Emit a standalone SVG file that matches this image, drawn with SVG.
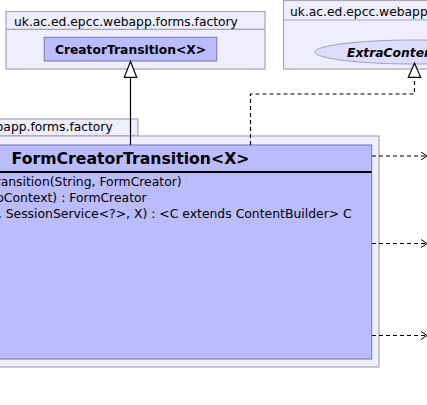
<svg xmlns="http://www.w3.org/2000/svg" width="427" height="405" viewBox="0 0 427 405">
<style>
.pkg{fill:#EEEEFF;stroke:#A4A4B4;stroke-width:1.2}
.cls{fill:#BBBBFF;stroke:#8585BB;stroke-width:1.2}
.lbl{font-family:"DejaVu Sans",sans-serif;font-size:12.3px;fill:#000}
.bold{font-weight:bold}
.mth{font-family:"DejaVu Sans",sans-serif;font-size:12.4px;fill:#000}
.solid{fill:none;stroke:#000;stroke-width:1.2}
.dash{fill:none;stroke:#000;stroke-width:1.2;stroke-dasharray:4,3}
.head{fill:#fff;stroke:#000;stroke-width:1.2}
.open{fill:none;stroke:#000;stroke-width:1}
</style>
<rect width="427" height="405" fill="#fff"/>
<g id="pkg-factory-top">
<rect class="pkg" x="6" y="11.5" width="259" height="57.5"/>
<line x1="6" y1="29.3" x2="265" y2="29.3" stroke="#A4A4B4" stroke-width="1.2"/>
<text class="lbl" x="14" y="25.7">uk.ac.ed.epcc.webapp.forms.factory</text>
</g>
<g id="CreatorTransition">
<rect class="cls" x="44.3" y="37.3" width="172.4" height="23.7"/>
<text class="lbl bold" x="130.5" y="54" text-anchor="middle">CreatorTransition&lt;X&gt;</text>
</g>
<g id="pkg-webapp-right">
<rect class="pkg" x="283.5" y="0.5" width="160" height="68.5"/>
<line x1="283.5" y1="20" x2="443.5" y2="20" stroke="#A4A4B4" stroke-width="1.2"/>
<text class="lbl" x="290" y="15.5">uk.ac.ed.epcc.webapp</text>
</g>
<g id="ExtraContent">
<ellipse cx="414.5" cy="52" rx="99.5" ry="12" fill="#DDDDFF" stroke="#9E9ECC" stroke-width="1"/>
<text class="lbl bold" x="347" y="57" font-style="italic">ExtraContent&lt;X&gt;</text>
</g>
<g id="pkg-factory-main">
<rect class="pkg" x="-130" y="119" width="268" height="17"/>
<text class="lbl" x="112.7" y="130.7" text-anchor="end">uk.ac.ed.epcc.webapp.forms.factory</text>
<rect class="pkg" x="-130" y="136" width="509" height="231"/>
</g>
<g id="FormCreatorTransition">
<rect class="cls" x="-111" y="145" width="482.6" height="214"/>
<text class="lbl bold" x="130.5" y="164" text-anchor="middle" style="font-size:15.7px">FormCreatorTransition&lt;X&gt;</text>
<line x1="-111" y1="172" x2="371.6" y2="172" stroke="#000" stroke-width="1.8"/>
<text class="mth" x="181.7" y="186" text-anchor="end">FormCreatorTransition(String, FormCreator)</text>
<text class="mth" x="146.7" y="202" text-anchor="end">getCreator(AppContext) : FormCreator</text>
<text class="mth" x="351.7" y="218" text-anchor="end">getExtraHtml(C, SessionService&lt;?&gt;, X) : &lt;C extends ContentBuilder&gt; C</text>
</g>
<g id="connectors">
<line class="solid" x1="130.5" y1="77" x2="130.5" y2="145"/>
<polygon class="head" points="130.5,61.5 124.3,77.3 136.7,77.3"/>
<polyline class="dash" points="250.5,145 250.5,94 414.5,94 414.5,77.3"/>
<polygon class="head" points="414.5,63.3 408.3,77.3 420.7,77.3"/>
<line class="dash" x1="372" y1="156" x2="426" y2="156"/>
<polyline class="open" points="421,152 427,156 421,160"/>
<line class="dash" x1="372" y1="243.5" x2="426" y2="243.5"/>
<polyline class="open" points="421,239.5 427,243.5 421,247.5"/>
<line class="dash" x1="372" y1="335.5" x2="426" y2="335.5"/>
<polyline class="open" points="421,331.5 427,335.5 421,339.5"/>
</g>
</svg>
